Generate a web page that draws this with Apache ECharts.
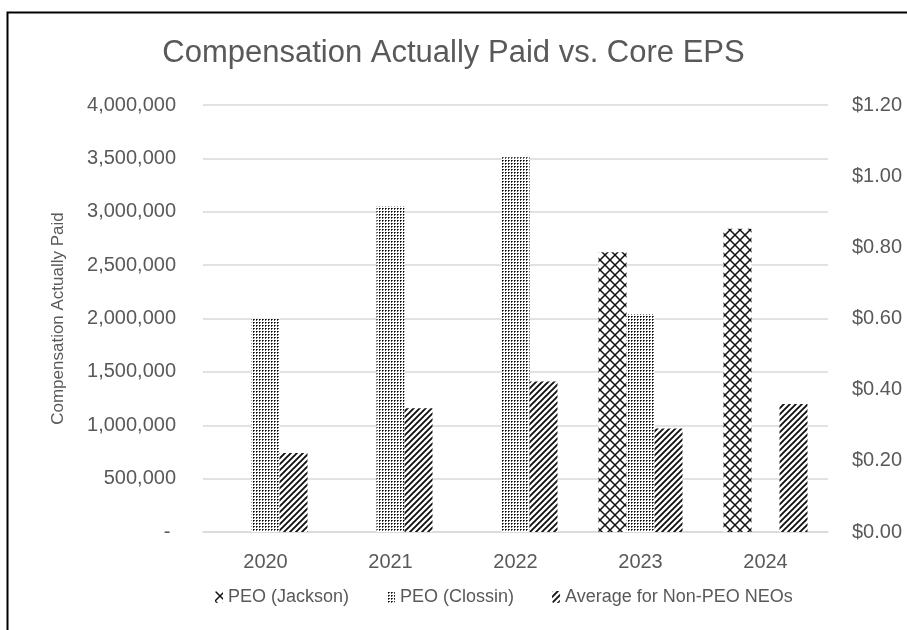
<!DOCTYPE html>
<html><head><meta charset="utf-8">
<script src="https://cdn.jsdelivr.net/npm/echarts@6/dist/echarts.min.js"></script>
<style>html,body{margin:0;padding:0;background:#fff}#c{width:907px;height:630px}</style>
</head><body><div id="c"></div>
<script>
const categories = ['2020','2021','2022','2023','2024'];
const peoJackson = [null, null, null, 2620000, 2840000];
const peoClossin = [2000000, 3050000, 3510000, 2040000, null];
const nonPeoAvg = [740000, 1160000, 1410000, 970000, 1200000];
const legendNames = ['PEO (Jackson)', 'PEO (Clossin)', 'Average for Non-PEO NEOs'];

function tile(w, h, draw) {
  const c = document.createElement('canvas');
  c.width = w; c.height = h;
  const g = c.getContext('2d');
  g.fillStyle = '#fff'; g.fillRect(0, 0, w, h);
  draw(g);
  return { image: c, repeat: 'repeat' };
}
const dotPat = tile(3, 3, g => {
  g.fillStyle = '#000'; g.fillRect(1, 1, 1, 1);
  g.fillStyle = '#555'; g.fillRect(2, 1, 1, 1); g.fillRect(1, 2, 1, 1);
});
const hatchPat = tile(6, 6, g => {
  g.strokeStyle = '#111'; g.lineWidth = 1.9;
  g.beginPath();
  g.moveTo(-1, 7); g.lineTo(7, -1);
  g.moveTo(-1, 1); g.lineTo(1, -1);
  g.moveTo(5, 7); g.lineTo(7, 5);
  g.stroke();
});
const crossPat = tile(10, 10, g => {
  g.strokeStyle = '#111'; g.lineWidth = 1.5;
  g.beginPath();
  g.moveTo(0, 0); g.lineTo(10, 10);
  g.moveTo(10, 0); g.lineTo(0, 10);
  g.stroke();
});

const txt = '#595959';
const font = "'Liberation Sans', Arial, sans-serif";
const chart = echarts.init(document.getElementById('c'), null, { renderer: 'canvas' });
chart.setOption({
  animation: false,
  backgroundColor: '#fff',
  title: {
    text: 'Compensation Actually Paid vs. Core EPS',
    left: 'center', top: 33,
    textStyle: { color: txt, fontSize: 31, fontWeight: 'normal', fontFamily: font }
  },
  graphic: [
    { type: 'polyline', shape: { points: [[7.5, 630], [7.5, 12.5], [907, 12.5]] }, style: { stroke: '#000', lineWidth: 2, fill: null } }
  ],
  legend: {
    bottom: 19, left: 210, itemGap: 38,
    itemWidth: 8, itemHeight: 12,
    textStyle: { color: txt, fontSize: 18, fontFamily: font },
    data: legendNames
  },
  grid: { left: 203, right: 79, top: 105, bottom: 98 },
  xAxis: {
    type: 'category', data: categories,
    axisLine: { lineStyle: { color: '#d9d9d9', width: 1.5 } },
    axisTick: { show: false },
    axisLabel: { color: txt, fontSize: 20, fontFamily: font, margin: 20 }
  },
  yAxis: [
    {
      type: 'value', min: 0, max: 4000000, interval: 500000,
      name: 'Compensation Actually Paid', nameLocation: 'middle', nameGap: 136, nameRotate: 90,
      nameTextStyle: { color: txt, fontSize: 17, fontFamily: font },
      axisLine: { show: false }, axisTick: { show: false },
      axisLabel: { color: txt, fontSize: 20, margin: 27, fontFamily: font,
        formatter: v => v === 0 ? '- ' : v.toLocaleString('en-US') },
      splitLine: { lineStyle: { color: '#d9d9d9', width: 1.5 } }
    },
    {
      type: 'value', min: 0, max: 1.2, interval: 0.2, position: 'right',
      axisLine: { show: false }, axisTick: { show: false }, splitLine: { show: false },
      axisLabel: { color: txt, fontSize: 20, margin: 24, fontFamily: font,
        formatter: v => '$' + v.toFixed(2) }
    }
  ],
  series: [
    { name: legendNames[0], type: 'bar', data: peoJackson, barWidth: 28, barGap: '0%', itemStyle: { color: crossPat } },
    { name: legendNames[1], type: 'bar', data: peoClossin, barWidth: 28, barGap: '0%', itemStyle: { color: dotPat } },
    { name: legendNames[2], type: 'bar', data: nonPeoAvg, barWidth: 28, barGap: '0%', itemStyle: { color: hatchPat } }
  ]
});
</script></body></html>
